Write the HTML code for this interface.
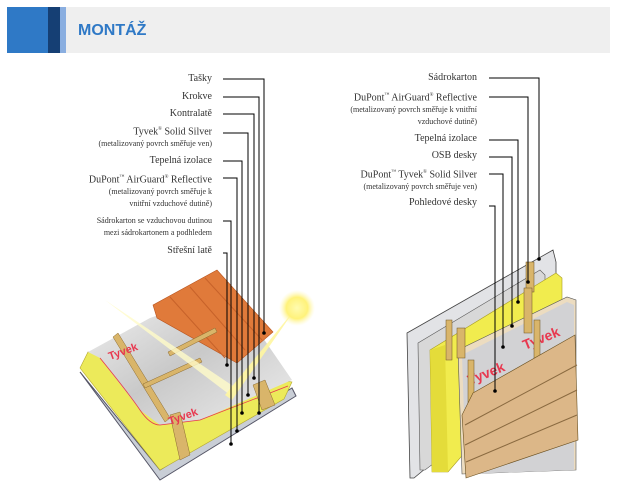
<!DOCTYPE html>
<html><head><meta charset="utf-8"><style>
body{margin:0;background:#fff;width:617px;height:495px;overflow:hidden;font-family:"Liberation Serif",serif;}
.t{position:absolute;text-align:right;color:#333;font-size:10px;line-height:12px;white-space:nowrap}
.s{font-size:8px;line-height:12px}
</style></head><body>
<div style="position:absolute;left:7px;top:7px;width:603px;height:46px;background:#efefef"></div>
<div style="position:absolute;left:7px;top:7px;width:41px;height:46px;background:#2f79c6"></div>
<div style="position:absolute;left:48px;top:7px;width:12px;height:46px;background:#153f74"></div>
<div style="position:absolute;left:60px;top:7px;width:6px;height:46px;background:#8aaee0"></div>
<div style="position:absolute;left:78px;top:22px;font:bold 16px 'Liberation Sans',sans-serif;color:#2f79c6">MONTÁŽ</div>

<div class="t" style="right:405px;top:73px">Tašky</div>
<div class="t" style="right:405px;top:91px">Krokve</div>
<div class="t" style="right:405px;top:108px">Kontralatě</div>
<div class="t" style="right:405px;top:124px">Tyvek<sup style="font-size:5px">®</sup> Solid Silver<br><span class="s">(metalizovaný povrch směřuje ven)</span></div>
<div class="t" style="right:405px;top:155px">Tepelná izolace</div>
<div class="t" style="right:405px;top:172px">DuPont<sup style="font-size:5px">™</sup> AirGuard<sup style="font-size:5px">®</sup> Reflective<br><span class="s">(metalizovaný povrch směřuje k<br>vnitřní vzduchové dutině)</span></div>
<div class="t s" style="right:405px;top:215px">Sádrokarton se vzduchovou dutinou<br>mezi sádrokartonem a podhledem</div>
<div class="t" style="right:405px;top:245px">Střešní latě</div>

<div class="t" style="right:140px;top:72px">Sádrokarton</div>
<div class="t" style="right:140px;top:90px">DuPont<sup style="font-size:5px">™</sup> AirGuard<sup style="font-size:5px">®</sup> Reflective<br><span class="s">(metalizovaný povrch směřuje k vnitřní<br>vzduchové dutině)</span></div>
<div class="t" style="right:140px;top:133px">Tepelná izolace</div>
<div class="t" style="right:140px;top:150px">OSB desky</div>
<div class="t" style="right:140px;top:167px">DuPont<sup style="font-size:5px">™</sup> Tyvek<sup style="font-size:5px">®</sup> Solid Silver<br><span class="s">(metalizovaný povrch směřuje ven)</span></div>
<div class="t" style="right:140px;top:197px">Pohledové desky</div>

<svg width="617" height="495" style="position:absolute;left:0;top:0">
<defs>
<radialGradient id="sun"><stop offset="0" stop-color="#fffbb0"/><stop offset="0.6" stop-color="#fff27a"/><stop offset="1" stop-color="#fff8c0" stop-opacity="0"/></radialGradient>
<linearGradient id="sil" x1="0" y1="0" x2="1" y2="1"><stop offset="0" stop-color="#f4f4f4"/><stop offset="0.5" stop-color="#c9c9c9"/><stop offset="1" stop-color="#eee"/></linearGradient>
</defs>
<!-- LEFT ROOF -->
<polygon points="80,372 160,480 296,396 292,388 160,470" fill="#c9ced6" stroke="#556" stroke-width="1"/>
<polygon points="80,368 88,352 292,382 284,399 160,470" fill="#ecea5a" stroke="#b5a830" stroke-width="0.6"/>
<polygon points="88,352 150,318 230,290 292,380 200,420 160,425 140,410 100,358" fill="url(#sil)"/>
<path d="M100,358 Q130,395 140,410 Q150,425 160,425 L200,420 L288,386" fill="none" stroke="#e8384f" stroke-width="0.8"/>
<polygon points="153,305 217,270 273,332 237,363 157,318" fill="#e07a3a" stroke="#b8541e" stroke-width="0.6"/>
<path d="M170,297 L225,358 M190,287 L245,350 M205,278 L262,340" stroke="#c7622a" stroke-width="1"/>
<polygon points="113,337 118,333 170,418 165,422" fill="#d9b56a" stroke="#8a6a30" stroke-width="0.5"/>
<polygon points="170,415 180,412 190,455 180,460" fill="#d9b56a" stroke="#8a6a30" stroke-width="0.5"/>
<polygon points="143,384 200,358 202,362 145,388" fill="#d9b56a" stroke="#8a6a30" stroke-width="0.5"/>
<polygon points="168,352 215,328 217,332 170,356" fill="#d9b56a" stroke="#8a6a30" stroke-width="0.5"/>
<polygon points="253,385 265,380 275,405 262,410" fill="#d9b56a" stroke="#8a6a30" stroke-width="0.5"/>
<polygon points="105,300 230,395 236,388" fill="#fffbc8" opacity="0.8"/>
<polygon points="296,308 225,395 232,400" fill="#fff6a0" opacity="0.9"/>
<circle cx="297" cy="308" r="18" fill="url(#sun)"/>
<text x="110" y="360" font-family="Liberation Sans" font-weight="bold" font-size="11" fill="#e8384f" transform="rotate(-20 110 360)">Tyvek</text>
<text x="170" y="425" font-family="Liberation Sans" font-weight="bold" font-size="11" fill="#e8384f" transform="rotate(-20 170 425)">Tyvek</text>
<!-- RIGHT WALL -->
<polygon points="407,333 553,250 556,262 556,360 414,478 410,478" fill="#e2e3e6" stroke="#444" stroke-width="0.8"/>
<polygon points="418,343 540,270 545,275 545,380 425,470 420,470" fill="#d8d8d8" stroke="#555" stroke-width="0.6"/>
<polygon points="430,350 556,273 562,278 562,340 448,472 432,472" fill="#f1ec4e" stroke="#a89c22" stroke-width="0.6"/>
<polygon points="430,350 445,345 448,472 432,472" fill="#e4dc3a"/>
<polygon points="458,350 567,297 576,300 576,470 462,474" fill="#ecdcc0" stroke="#555" stroke-width="0.6"/>
<polygon points="462,355 567,302 574,305 574,470 466,474" fill="#d2d2d4"/>
<text x="470" y="385" font-family="Liberation Sans" font-weight="bold" font-size="14" fill="#e8384f" transform="rotate(-22 470 385)">Tyvek</text>
<text x="525" y="350" font-family="Liberation Sans" font-weight="bold" font-size="14" fill="#e8384f" transform="rotate(-22 525 350)">Tyvek</text>
<rect x="446" y="320" width="6" height="40" fill="#d9b56a" stroke="#6a5020" stroke-width="0.5"/>
<rect x="457" y="328" width="8" height="30" fill="#d9b56a" stroke="#6a5020" stroke-width="0.5"/>
<rect x="526" y="262" width="8" height="30" fill="#d9b56a" stroke="#6a5020" stroke-width="0.5"/>
<rect x="524" y="288" width="8" height="45" fill="#d9b56a" stroke="#6a5020" stroke-width="0.5"/>
<rect x="534" y="320" width="6" height="40" fill="#d9b56a" stroke="#6a5020" stroke-width="0.5"/>
<rect x="468" y="360" width="6" height="70" fill="#d9b56a" stroke="#6a5020" stroke-width="0.5"/>
<polygon points="473,393 575,335 578,440 466,478 462,415" fill="#dcb788" stroke="#6a5020" stroke-width="0.6"/>
<path d="M465,425 L577,365 M465,445 L577,390 M466,462 L577,415" stroke="#8a6a40" stroke-width="1"/>
<g stroke="#000" stroke-width="1" fill="none">
<path d="M223,79 H264 V333 M223,97 H259 V413 M223,114 H254 V378 M223,133 H248 V395 M223,161 H242 V413 M223,178 H237 V431 M223,221 H231 V444 M223,253 H227 V365"/>
<path d="M489,78 H539 V259 M489,97 H528 V282 M489,140 H518 V302 M489,157 H512 V326 M489,174 H503 V347 M489,206 H495 V391"/>
</g>
<g fill="#000">
<circle cx="264" cy="333" r="1.8"/><circle cx="259" cy="413" r="1.8"/><circle cx="254" cy="378" r="1.8"/><circle cx="248" cy="395" r="1.8"/><circle cx="242" cy="413" r="1.8"/><circle cx="237" cy="431" r="1.8"/><circle cx="231" cy="444" r="1.8"/><circle cx="227" cy="365" r="1.8"/>
<circle cx="539" cy="259" r="1.8"/><circle cx="528" cy="282" r="1.8"/><circle cx="518" cy="302" r="1.8"/><circle cx="512" cy="326" r="1.8"/><circle cx="503" cy="347" r="1.8"/><circle cx="495" cy="391" r="1.8"/>
</g>
</svg>
</body></html>
